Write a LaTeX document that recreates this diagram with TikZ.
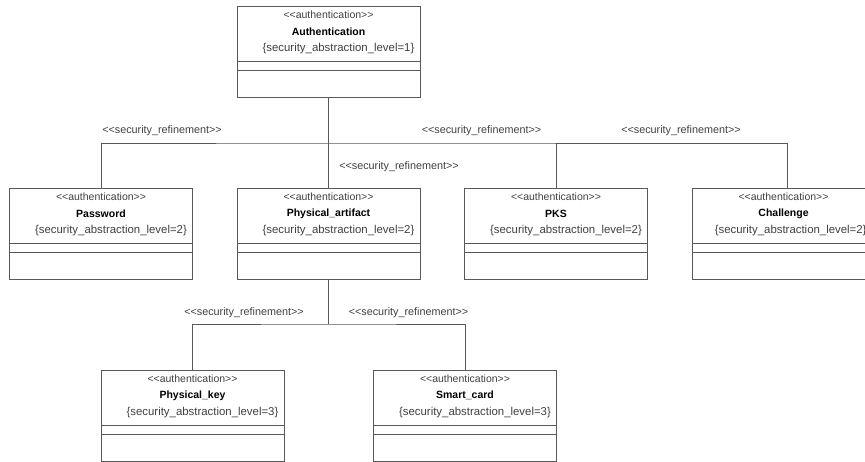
\documentclass[tikz,border=0pt]{standalone}
\usepackage{fontspec}
\setmainfont{Liberation Sans}
\newcommand{\authst}{<\kern0pt<authentication>\kern0pt>}
\newcommand{\refst}{<\kern0pt<security\_refinement>\kern0pt>}
\newcommand{\seclevel}[1]{\{security\_abstraction\_level=#1\}}
% compartments of a class box
\newcommand{\classparts}[1]{%
  \draw[umlline] ([yshift=-56pt]#1.north west) -- ([yshift=-56pt]#1.north east);
  \draw[umlline] ([yshift=-65pt]#1.north west) -- ([yshift=-65pt]#1.north east);}
\begin{document}
\begin{tikzpicture}[x=1pt,y=-1pt,
  font=\fontsize{10.5pt}{12pt}\selectfont,
  umlline/.style={draw=black!65,line width=0.9pt},
  classbox/.style={umlline,rectangle,minimum width=183pt,minimum height=91pt,inner sep=0pt},
  stereo/.style={text=black!75,inner sep=0pt},
  reflabel/.style={stereo,font=\fontsize{10.8pt}{12pt}\selectfont},
  cname/.style={text=black,font=\fontsize{10.5pt}{12pt}\selectfont\bfseries,inner sep=0pt},
  tagval/.style={text=black!75,font=\fontsize{11.4pt}{13pt}\selectfont,inner sep=0pt}]
\clip (0,0) rectangle (865,462);
% Classes
\node[classbox] (auth) at (328.5,51.5) {};
\node[classbox] (pw) at (101,233.5) {};
\node[classbox] (pa) at (328.5,233.5) {};
\node[classbox] (pks) at (556,233.5) {};
\node[classbox] (ch) at (783.5,233.5) {};
\node[classbox] (pk) at (192.5,415.5) {};
\node[classbox] (sc) at (465,415.5) {};
\foreach \c/\n/\l in {auth/Authentication/1, pw/Password/2, pa/Physical\_artifact/2,
    pks/PKS/2, pk/Physical\_key/3, sc/Smart\_card/3} {
  \node[stereo] (\c-st) at ([yshift=-9pt]\c.north) {\authst};
  \node[cname] (\c-nm) at ([yshift=-26pt]\c.north) {\n};
  \node[tagval] (\c-tg) at ([xshift=10pt,yshift=-43pt]\c.north) {\seclevel{\l}};
  \classparts{\c}
}
\node[stereo] (ch-st) at ([yshift=-9pt]ch.north) {\authst};
\node[cname] (ch-nm) at ([yshift=-26pt]ch.north) {Challenge};
\node[tagval,anchor=west] (ch-tg) at ([xshift=23pt,yshift=-43pt]ch.north west) {\seclevel{2}};
\classparts{ch}
% Refinement connectors
\coordinate (bus1) at (328.5,143);
\coordinate (bus2) at (328.5,324);
\coordinate (ch-in) at ([xshift=4pt]ch.north);
\draw[umlline] (auth.south) -- (pa.north);
\draw[umlline] (pw.north) |- (bus1) -| (ch-in);
\draw[umlline] (pks.north) -- (pks.north |- bus1);
\draw[umlline] (pa.south) -- (bus2);
\draw[umlline] (pk.north) |- (bus2) -| (sc.north);
% Labels
\node[reflabel] (ref1) at (162,131) {\refst};
\node[reflabel] (ref2) at (399,167) {\refst};
\node[reflabel] (ref3) at (481.5,131) {\refst};
\node[reflabel] (ref4) at (681,131) {\refst};
\node[reflabel] (ref5) at (244,313) {\refst};
\node[reflabel] (ref6) at (408.5,313) {\refst};
\end{tikzpicture}
\end{document}
